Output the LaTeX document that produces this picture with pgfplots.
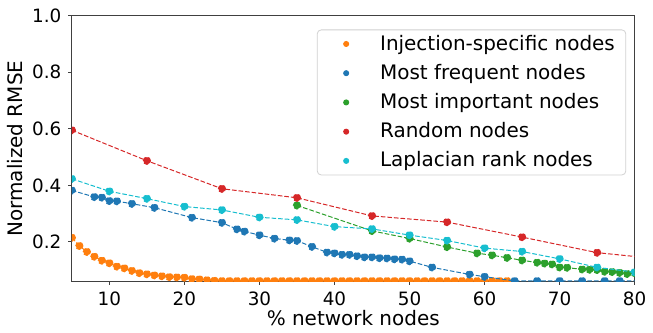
\documentclass[border=0pt]{standalone}
\usepackage{pgfplots}
\pgfplotsset{compat=1.18}
\usepackage{fontspec}
\setmainfont{DejaVu Sans}
\definecolor{tabblue}{HTML}{1F77B4}
\definecolor{taborange}{HTML}{FF7F0E}
\definecolor{tabgreen}{HTML}{2CA02C}
\definecolor{tabred}{HTML}{D62728}
\definecolor{tabcyan}{HTML}{17BECF}
\begin{document}
\begin{tikzpicture}
\begin{axis}[
  width=282pt, height=133.2pt, scale only axis,
  xmin=5, xmax=80, ymin=0.06, ymax=1.0,
  xtick={10,20,...,80},
  ytick={0.2,0.4,0.6,0.8,1.0},
  yticklabel style={/pgf/number format/.cd, fixed, fixed zerofill, precision=1},
  /pgf/number format/assume math mode=true,
  tick label style={font=\fontsize{9.2}{11}\selectfont},
  label style={font=\fontsize{10}{12}\selectfont},
  xlabel={\% network nodes},
  ylabel={Normalized RMSE},
  tick align=outside, major tick length=1.75pt,
  xtick pos=bottom, ytick pos=left,
  axis line style={black!75, line width=0.6pt},
  tick style={black!75, line width=0.5pt},
  clip marker paths=true,
  every axis plot/.append style={line width=0.5pt, dash pattern=on 2.3pt off 1pt, mark=*, mark size=1.8pt, mark options={solid, draw=none}},
  legend cell align=left,
  legend image code/.code={\path[draw=none,fill=none] (0pt,-1pt) rectangle (18pt,1pt); \draw[#1, solid, draw=none, mark size=1.25pt] plot coordinates {(10pt,0pt)};},
  legend style={at={(0.985,0.948)}, anchor=north east, draw=black!18, rounded corners=2pt,
    font=\fontsize{10}{12}\selectfont, inner xsep=4.5pt, inner ysep=0.5pt, row sep=1.55pt,
    nodes={inner xsep=1pt},
    /tikz/every odd column/.append style={column sep=8pt}},
  ylabel style={yshift=-2pt},
  xlabel style={yshift=4.5pt},
]
\addplot[color=taborange, mark options={fill=taborange}] coordinates {
(5,0.215)(6,0.186)(7,0.165)(8,0.148)(9,0.134)(10,0.125)(11,0.113)(12,0.107)(13,0.098)(14,0.090)
(15,0.086)(16,0.082)(17,0.079)(18,0.076)(19,0.075)(20,0.074)(21,0.069)(22,0.068)(23,0.065)(24,0.063)
(25,0.062)(26,0.062)(27,0.062)(28,0.062)(29,0.062)(30,0.062)(31,0.062)(32,0.062)(33,0.062)(34,0.062)
(35,0.062)(36,0.062)(37,0.062)(38,0.062)(39,0.062)(40,0.062)(41,0.062)(42,0.062)(43,0.062)(44,0.062)
(45,0.062)(46,0.062)(47,0.062)(48,0.062)(49,0.062)(50,0.062)(51,0.062)(52,0.062)(53,0.062)(54,0.062)
(55,0.062)(56,0.062)(57,0.062)(58,0.062)(59,0.062)(60,0.062)(61,0.062)(62,0.062)(63,0.062)
};
\addlegendentry{Injection-specific nodes}
\addplot[color=tabblue, mark options={fill=tabblue}] coordinates {
(5,0.382)(8,0.359)(9,0.357)(10,0.345)(11,0.344)(13,0.335)(16,0.321)(21,0.286)(25,0.268)(27,0.245)
(28,0.237)(30,0.224)(32,0.212)(34,0.206)(35,0.204)(37,0.183)(39,0.163)(40,0.160)(41,0.155)(42,0.155)
(43,0.150)(44,0.146)(45,0.146)(46,0.143)(47,0.142)(48,0.139)(49,0.138)(50,0.132)(53,0.110)(58,0.085)
(60,0.077)(64,0.062)(67,0.062)(70,0.062)(73,0.062)(76,0.062)(78,0.062)(82,0.062)
};
\addlegendentry{Most frequent nodes}
\addplot[color=tabgreen, mark options={fill=tabgreen}] coordinates {
(35,0.329)(45,0.239)(50,0.212)(55,0.182)(59,0.160)(61,0.153)(63,0.144)(65,0.135)(67,0.127)(68,0.124)
(69,0.121)(70,0.110)(71,0.109)(73,0.103)(74,0.102)(75,0.101)(76,0.095)(77,0.094)(78,0.091)(79,0.087)(80,0.090)
};
\addlegendentry{Most important nodes}
\addplot[color=tabred, mark options={fill=tabred}] coordinates {
(5,0.595)(15,0.487)(25,0.388)(35,0.356)(45,0.292)(55,0.270)(65,0.217)(75,0.162)(85,0.135)
};
\addlegendentry{Random nodes}
\addplot[color=tabcyan, mark options={fill=tabcyan}] coordinates {
(5,0.423)(10,0.379)(15,0.353)(20,0.325)(25,0.313)(30,0.287)(35,0.278)(40,0.254)(45,0.246)(50,0.224)
(55,0.205)(60,0.178)(65,0.166)(70,0.140)(75,0.110)(80,0.093)
};
\addlegendentry{Laplacian rank nodes}
\end{axis}
\path (current axis.south west) ++(-36pt,-25.5pt) coordinate (A);
\path (current axis.north east) ++(8.5pt,7.85pt) coordinate (B);
\path (A) rectangle (B);
\end{tikzpicture}
\end{document}
